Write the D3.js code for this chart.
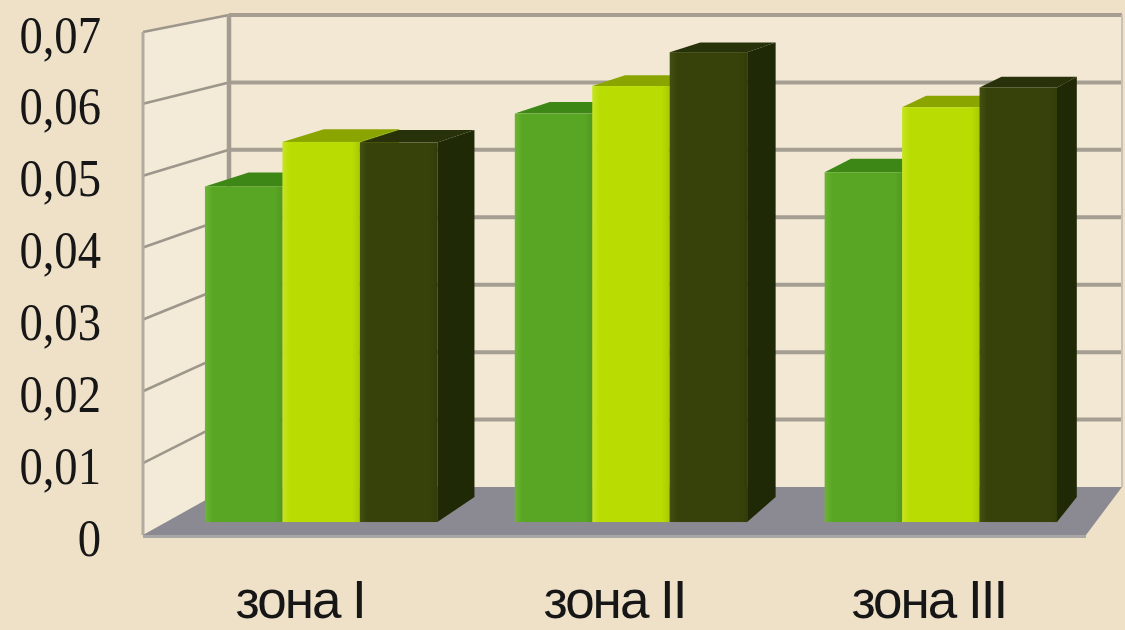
<!DOCTYPE html>
<html>
<head>
<meta charset="utf-8">
<script src="https://cdn.jsdelivr.net/npm/d3@7"></script>
<style>
  html, body { margin: 0; padding: 0; background: #eee1c8; }
  svg { display: block; }
</style>
</head>
<body>
<svg id="chart" width="1125" height="630"></svg>
<script>
// Data
const categories = ["зона I", "зона II", "зона III"];
const seriesA = [0.0475, 0.0578, 0.0495];   // green
const seriesB = [0.0538, 0.0617, 0.0587];   // yellow-green
const seriesC = [0.0537, 0.0665, 0.0615];   // dark olive
const yTicks = [0, 0.01, 0.02, 0.03, 0.04, 0.05, 0.06, 0.07];
const yTickLabels = ["0", "0,01", "0,02", "0,03", "0,04", "0,05", "0,06", "0,07"];

const series = [
  { values: seriesA, front: "#59a624", top: "#3d8716", side: "#2f6a10", light: "#6cb534" },
  { values: seriesB, front: "#b9dc02", top: "#8ba500", side: "#7d9400", light: "#c6e422" },
  { values: seriesC, front: "#37420a", top: "#27310a", side: "#1f2905", light: "#434f12" }
];

const svg = d3.select("#chart");

// 3D box geometry: front plane (z=0) and back plane (z=1)
const xFront = d3.scaleLinear().domain([0, 1]).range([143, 1086]);
const xBack  = d3.scaleLinear().domain([0, 1]).range([229, 1122]);
const yFront = d3.scaleLinear().domain([0, 0.07]).range([535, 32]);
const yBack  = d3.scaleLinear().domain([0, 0.07]).range([487, 15]);

function P(u, v, z) {
  return [xFront(u) * (1 - z) + xBack(u) * z,
          yFront(v) * (1 - z) + yBack(v) * z];
}
const poly = pts => "M" + pts.map(p => p.join(",")).join("L") + "Z";

const band = d3.scaleBand().domain(categories).range([0, 1])
  .paddingInner(0.25).paddingOuter(0.125);
const sub = d3.scaleBand().domain(d3.range(series.length)).range([0, band.bandwidth()]);

const zBar0 = 0.27, zBar1 = 0.79;
const vMax = 0.07;

// Gradients for bar fronts
const defs = svg.append("defs");
series.forEach((s, i) => {
  const g = defs.append("linearGradient").attr("id", "front" + i)
    .attr("x1", 0).attr("x2", 1).attr("y1", 0).attr("y2", 0);
  g.append("stop").attr("offset", "0%").attr("stop-color", s.light);
  g.append("stop").attr("offset", "10%").attr("stop-color", s.front);
  g.append("stop").attr("offset", "90%").attr("stop-color", s.front);
  g.append("stop").attr("offset", "100%").attr("stop-color", d3.color(s.front).darker(0.25));
});

// Walls
const walls = svg.append("g");
walls.append("path")
  .attr("d", poly([P(0, 0, 0), P(0, vMax, 0), P(0, vMax, 1), P(0, 0, 1)]))
  .attr("fill", "#f3ead8");
walls.append("path")
  .attr("d", poly([P(0, 0, 1), P(1, 0, 1), P(1, vMax, 1), P(0, vMax, 1)]))
  .attr("fill", "#f3e8d4");

// Gridlines on side wall and back wall
const grid = svg.append("g");
yTicks.filter(v => v > 0).forEach(v => {
  const a = P(0, v, 0), b = P(0, v, 1), c = P(1, v, 1);
  grid.append("line").attr("x1", a[0]).attr("y1", a[1]).attr("x2", b[0]).attr("y2", b[1])
    .attr("stroke", "#9d968b").attr("stroke-width", 2.6);
  grid.append("line").attr("x1", b[0]).attr("y1", b[1]).attr("x2", c[0]).attr("y2", c[1])
    .attr("stroke", "#a59e92").attr("stroke-width", 4);
});

// Wall edges
const e0 = P(0, 0, 0), e1 = P(0, vMax, 0), e2 = P(0, 0, 1), e3 = P(0, vMax, 1);
const e4 = P(1, 0, 1), e5 = P(1, vMax, 1);
grid.append("line").attr("x1", e0[0]).attr("y1", e0[1]).attr("x2", e1[0]).attr("y2", e1[1])
  .attr("stroke", "#b2ab9f").attr("stroke-width", 3);
grid.append("line").attr("x1", e2[0]).attr("y1", e2[1]).attr("x2", e3[0]).attr("y2", e3[1])
  .attr("stroke", "#a39c90").attr("stroke-width", 4.5);
grid.append("line").attr("x1", e4[0]).attr("y1", e4[1]).attr("x2", e5[0]).attr("y2", e5[1])
  .attr("stroke", "#c9c2b5").attr("stroke-width", 2);

// Floor
const floor = svg.append("g");
floor.append("path")
  .attr("d", poly([P(0, 0, 0), P(1, 0, 0), P(1, 0, 1), P(0, 0, 1)]))
  .attr("fill", "#8b8a92");
const f0 = P(0, 0, 0), f1 = P(1, 0, 0);
floor.append("path")
  .attr("d", poly([f0, f1, [f1[0], f1[1] + 3], [f0[0], f0[1] + 3]]))
  .attr("fill", "#a9a6a6");

// Bars: drawn left to right so each neighbour hides the previous side face
const bars = svg.append("g");
categories.forEach((cat, ci) => {
  series.forEach((s, si) => {
    const v = s.values[ci];
    const u0 = band(cat) + sub(si);
    const u1 = u0 + sub.bandwidth();
    const g = bars.append("g");
    // right side face
    g.append("path")
      .attr("d", poly([P(u1, 0, zBar0), P(u1, 0, zBar1), P(u1, v, zBar1), P(u1, v, zBar0)]))
      .attr("fill", s.side);
    // top face
    g.append("path")
      .attr("d", poly([P(u0, v, zBar0), P(u1, v, zBar0), P(u1, v, zBar1), P(u0, v, zBar1)]))
      .attr("fill", s.top);
    // front face
    const a = P(u0, v, zBar0), b = P(u1, 0, zBar0);
    g.append("rect")
      .attr("x", a[0]).attr("y", a[1])
      .attr("width", b[0] - a[0]).attr("height", b[1] - a[1])
      .attr("fill", `url(#front${si})`);
  });
});

// Y tick labels
const yLabels = svg.append("g")
  .attr("font-family", "'Liberation Serif', 'Times New Roman', serif")
  .attr("font-size", 53).attr("fill", "#161616");
yTicks.forEach((v, i) => {
  yLabels.append("text")
    .attr("transform", `translate(101,${yFront(v) + 3}) scale(0.88,1)`)
    .attr("text-anchor", "end")
    .attr("dominant-baseline", "central")
    .text(yTickLabels[i]);
});

// Category labels
const xLabels = svg.append("g")
  .attr("font-family", "'Liberation Sans', Arial, sans-serif")
  .attr("font-size", 53).attr("fill", "#161616");
categories.forEach(cat => {
  const x = xFront(band(cat) + band.bandwidth() / 2);
  xLabels.append("text")
    .attr("x", x).attr("y", 618)
    .attr("text-anchor", "middle")
    .attr("letter-spacing", -2)
    .text(cat);
});
</script>
</body>
</html>
